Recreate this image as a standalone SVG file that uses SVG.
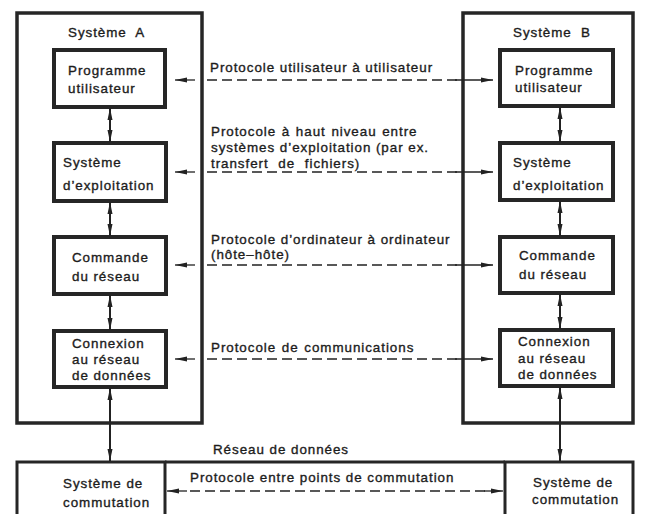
<svg xmlns="http://www.w3.org/2000/svg" width="652" height="514" viewBox="0 0 652 514">
<defs>
<marker id="ah" markerUnits="userSpaceOnUse" markerWidth="12" markerHeight="6" viewBox="0 0 12 6" refX="12" refY="3" orient="auto-start-reverse">
<path d="M0,0.5 L12,3 L0,5.5 z" fill="#222"/>
</marker>
<style>
text{font-family:"Liberation Sans",Arial,sans-serif;font-size:13.4px;letter-spacing:0.95px;fill:#1c1c1c;stroke:#1c1c1c;stroke-width:0.35px}
.outer{fill:none;stroke:#262626;stroke-width:3.5}
.inner{fill:#fff;stroke:#262626;stroke-width:4}
.base{fill:none;stroke:#262626;stroke-width:3}
.va{stroke:#222;stroke-width:2;fill:none;marker-start:url(#ah);marker-end:url(#ah)}
.sa{stroke:#222;stroke-width:1.3;fill:none;marker-end:url(#ah)}
.dash{stroke:#222;stroke-width:1.3;fill:none;stroke-dasharray:10 5}
.ws{word-spacing:1px}
.ws2{word-spacing:5px}
</style>
</defs>
<rect width="652" height="514" fill="#fff"/>

<g id="systemA">
<rect class="outer" x="17" y="13" width="185" height="410"/>
<text x="68" y="37">Système&#160; A</text>
</g>
<g id="systemB">
<rect class="outer" x="463" y="13" width="170" height="410"/>
<text x="513" y="37">Système&#160; B</text>
</g>

<g id="progA">
<rect class="inner" x="54" y="50" width="111" height="57"/>
<text x="68" y="75">Programme</text>
<text x="68" y="93">utilisateur</text>
</g>
<g id="osA">
<rect class="inner" x="54" y="143" width="112" height="58"/>
<text x="63" y="167">Système</text>
<text x="63" y="190">d’exploitation</text>
</g>
<g id="netctlA">
<rect class="inner" x="54" y="237" width="112" height="57"/>
<text x="72" y="262">Commande</text>
<text x="72" y="281">du réseau</text>
</g>
<g id="connA">
<rect class="inner" x="54" y="331" width="112" height="56"/>
<text x="72" y="348">Connexion</text>
<text x="72" y="364">au réseau</text>
<text x="72" y="380">de données</text>
</g>

<g id="progB">
<rect class="inner" x="500" y="50" width="113" height="56"/>
<text x="515" y="75">Programme</text>
<text x="515" y="92">utilisateur</text>
</g>
<g id="osB">
<rect class="inner" x="500" y="143" width="113" height="57"/>
<text x="513" y="167">Système</text>
<text x="513" y="190">d’exploitation</text>
</g>
<g id="netctlB">
<rect class="inner" x="500" y="237" width="113" height="56"/>
<text x="519" y="260">Commande</text>
<text x="519" y="279">du réseau</text>
</g>
<g id="connB">
<rect class="inner" x="500" y="330" width="113" height="56"/>
<text x="518" y="346">Connexion</text>
<text x="518" y="363">au réseau</text>
<text x="518" y="379">de données</text>
</g>

<g id="switchA">
<rect class="base" x="17" y="462" width="148" height="70"/>
<text x="63" y="488">Système de</text>
<text x="63" y="507">commutation</text>
</g>
<g id="network">
<line class="base" x1="165" y1="462" x2="505" y2="462"/>
<text x="213" y="454">Réseau de données</text>
</g>
<g id="switchB">
<rect class="base" x="505" y="462" width="128" height="70"/>
<text x="533" y="487">Système de</text>
<text x="532" y="504">commutation</text>
</g>

<g id="labels">
<text x="210" y="72">Protocole utilisateur à utilisateur</text>
<text class="ws" x="211" y="136">Protocole à haut niveau entre</text>
<text x="211" y="152">systèmes d’exploitation (par ex.</text>
<text class="ws2" x="211" y="168">transfert de fichiers)</text>
<text x="211" y="244">Protocole d’ordinateur à ordinateur</text>
<text x="211" y="259">(hôte–hôte)</text>
<text class="ws" x="211" y="352">Protocole de communications</text>
<text x="190" y="482">Protocole entre points de commutation</text>
</g>

<g id="connectors">
<line class="va" x1="110" y1="108" x2="110" y2="142"/>
<line class="va" x1="110" y1="202" x2="110" y2="236"/>
<line class="va" x1="110" y1="295" x2="110" y2="330"/>
<line class="va" x1="110" y1="388" x2="110" y2="461"/>
<line class="va" x1="560" y1="107" x2="560" y2="142"/>
<line class="va" x1="560" y1="201" x2="560" y2="236"/>
<line class="va" x1="560" y1="294" x2="560" y2="329"/>
<line class="va" x1="560" y1="387" x2="560" y2="461"/>

<line class="sa" x1="195" y1="80" x2="175" y2="80"/>
<line class="dash" x1="207" y1="80" x2="458" y2="80"/>
<line class="sa" x1="455" y1="80" x2="493" y2="80"/>

<line class="sa" x1="195" y1="172" x2="175" y2="172"/>
<line class="dash" x1="207" y1="172" x2="458" y2="172"/>
<line class="sa" x1="455" y1="172" x2="493" y2="172"/>

<line class="sa" x1="195" y1="265" x2="175" y2="265"/>
<line class="dash" x1="207" y1="265" x2="458" y2="265"/>
<line class="sa" x1="455" y1="265" x2="493" y2="265"/>

<line class="sa" x1="195" y1="359" x2="175" y2="359"/>
<line class="dash" x1="207" y1="359" x2="458" y2="359"/>
<line class="sa" x1="455" y1="359" x2="493" y2="359"/>

<line class="sa" x1="187" y1="491" x2="167" y2="491"/>
<line class="dash" x1="190" y1="491" x2="485" y2="491"/>
<line class="sa" x1="484" y1="491" x2="503" y2="491"/>
</g>
</svg>
